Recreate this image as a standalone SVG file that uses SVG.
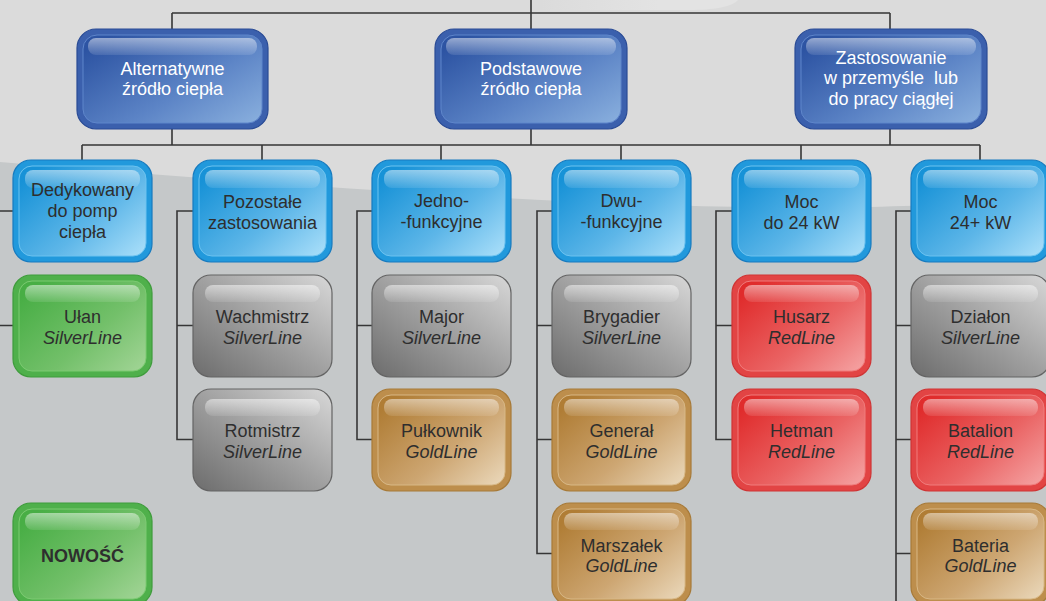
<svg xmlns="http://www.w3.org/2000/svg" width="1046" height="601" viewBox="0 0 1046 601">
<defs>
<linearGradient id="gTopLight" x1="0" y1="0" x2="1" y2="0">
<stop offset="0" stop-color="#e3e3e3" stop-opacity="0"/>
<stop offset="0.6" stop-color="#e3e3e3" stop-opacity="1"/>
<stop offset="1" stop-color="#e3e3e3" stop-opacity="1"/>
</linearGradient>
<linearGradient id="gL1" x1="0" y1="0.2" x2="1" y2="1">
<stop offset="0" stop-color="#2d54a3"/>
<stop offset="0.55" stop-color="#5c84c6"/>
<stop offset="1" stop-color="#8ab0de"/>
</linearGradient>
<linearGradient id="gL2" x1="0" y1="0.2" x2="1" y2="1">
<stop offset="0" stop-color="#1792d7"/>
<stop offset="0.55" stop-color="#5db6e8"/>
<stop offset="1" stop-color="#ace0fa"/>
</linearGradient>
<linearGradient id="gGreen" x1="0" y1="0.2" x2="1" y2="1">
<stop offset="0" stop-color="#48ae45"/>
<stop offset="0.55" stop-color="#73c06a"/>
<stop offset="1" stop-color="#a3d597"/>
</linearGradient>
<linearGradient id="gGrey" x1="0" y1="1" x2="1" y2="0">
<stop offset="0" stop-color="#6c6c6c"/>
<stop offset="0.5" stop-color="#a0a0a0"/>
<stop offset="1" stop-color="#d8d8d8"/>
</linearGradient>
<linearGradient id="gGold" x1="0" y1="0.2" x2="1" y2="1">
<stop offset="0" stop-color="#b07d35"/>
<stop offset="0.55" stop-color="#cda672"/>
<stop offset="1" stop-color="#ebd9bc"/>
</linearGradient>
<linearGradient id="gRed" x1="0" y1="0.2" x2="1" y2="1">
<stop offset="0" stop-color="#e02c2c"/>
<stop offset="0.55" stop-color="#ea6464"/>
<stop offset="1" stop-color="#f5a5a5"/>
</linearGradient>
<linearGradient id="gGloss" x1="0" y1="0" x2="0" y2="1">
<stop offset="0" stop-color="#ffffff" stop-opacity="0.5"/>
<stop offset="1" stop-color="#ffffff" stop-opacity="0.1"/>
</linearGradient>
</defs>
<style>
.conn path{fill:none;stroke:#363636;stroke-width:1.6}
.rim{stroke-width:1.2}
.body{stroke-width:1}
.gloss{fill:url(#gGloss)}
.l1 .rim{fill:#3b60ad;stroke:#2a4b95}
.l1 .body{fill:url(#gL1);stroke:#5f86cb}
.l2 .rim{fill:#2199dc;stroke:#187bbf}
.l2 .body{fill:url(#gL2);stroke:#6cc3f0}
.green .rim{fill:#4fb04b;stroke:#3f9c3c}
.green .body{fill:url(#gGreen);stroke:#7ccb72}
.grey .rim{fill:url(#gGrey);stroke:#646464}
.gold .rim{fill:#bd8e4c;stroke:#a77a38}
.gold .body{fill:url(#gGold);stroke:#d8b886}
.red .rim{fill:#e24444;stroke:#cf3434}
.red .body{fill:url(#gRed);stroke:#f07c7c}
text{font-family:"Liberation Sans",Arial,sans-serif;font-size:18px;text-anchor:middle;fill:#2e2e2e}
.l1 text{fill:#ffffff}
.it{font-style:italic}
.bold{font-weight:bold}
</style>
<rect x="0" y="0" width="1046" height="601" fill="#dbdbdb"/>
<path d="M540,0 H738 C732,7 712,10 690,10 H540 Z" fill="url(#gTopLight)"/>
<path d="M0,162 C260,183 620,212 870,207 C950,205 1010,202 1046,199 L1046,601 L0,601 Z" fill="#c5c8c9"/>

<g class="conn">
<path d="M531,0 V29 M172,13 H890 M172,13 V29 M890,13 V29"/>
<path d="M172,129 V145 M531,129 V145 M890,129 V145 M82,145 H980 M82,145 V160 M262,145 V160 M441,145 V160 M621,145 V160 M801,145 V160 M980,145 V160"/>
<path d="M0,211 H13 M0,325.5 H13"/>
<path d="M193,211 H177 V439.5 H193 M177,325.5 H193"/>
<path d="M372,211 H357 V439.5 H372 M357,325.5 H372"/>
<path d="M552,211 H537 V553.5 H552 M537,325.5 H552 M537,439.5 H552"/>
<path d="M732,211 H716 V439.5 H732 M716,325.5 H732"/>
<path d="M911,211 H896 V601 M896,325.5 H911 M896,439.5 H911 M896,553.5 H911"/>
</g>

<g id="n-alternatywne" class="l1">
<rect class="rim" x="77" y="29" width="191" height="100" rx="19"/>
<rect class="body" x="83" y="35" width="179" height="88" rx="14"/>
<rect class="gloss" x="88" y="38" width="169" height="17" rx="8"/>
<text x="172.5" y="74.5"><tspan x="172.5">Alternatywne</tspan><tspan x="172.5" dy="20.5">źródło ciepła</tspan></text>
</g>
<g id="n-podstawowe" class="l1">
<rect class="rim" x="435" y="29" width="192" height="100" rx="19"/>
<rect class="body" x="441" y="35" width="180" height="88" rx="14"/>
<rect class="gloss" x="446" y="38" width="170" height="17" rx="8"/>
<text x="531" y="74.5"><tspan x="531">Podstawowe</tspan><tspan x="531" dy="20.5">źródło ciepła</tspan></text>
</g>
<g id="n-zastosowanie" class="l1">
<rect class="rim" x="795" y="29" width="192" height="100" rx="19"/>
<rect class="body" x="801" y="35" width="180" height="88" rx="14"/>
<rect class="gloss" x="806" y="38" width="170" height="17" rx="8"/>
<text x="891" y="63.5" xml:space="preserve"><tspan x="891">Zastosowanie</tspan><tspan x="891" dy="20.5">w przemyśle  lub</tspan><tspan x="891" dy="20.5">do pracy ciągłej</tspan></text>
</g>

<g id="n-dedykowany" class="l2">
<rect class="rim" x="13" y="160" width="139" height="102" rx="18"/>
<rect class="body" x="19" y="166" width="127" height="90" rx="13"/>
<rect class="gloss" x="25" y="170" width="115" height="18" rx="8"/>
<text x="82.5" y="196"><tspan x="82.5">Dedykowany</tspan><tspan x="82.5" dy="21">do pomp</tspan><tspan x="82.5" dy="21">ciepła</tspan></text>
</g>
<g id="n-pozostale" class="l2">
<rect class="rim" x="193" y="160" width="139" height="102" rx="18"/>
<rect class="body" x="199" y="166" width="127" height="90" rx="13"/>
<rect class="gloss" x="205" y="170" width="115" height="18" rx="8"/>
<text x="262.5" y="207.5"><tspan x="262.5">Pozostałe</tspan><tspan x="262.5" dy="21">zastosowania</tspan></text>
</g>
<g id="n-jedno" class="l2">
<rect class="rim" x="372" y="160" width="139" height="102" rx="18"/>
<rect class="body" x="378" y="166" width="127" height="90" rx="13"/>
<rect class="gloss" x="384" y="170" width="115" height="18" rx="8"/>
<text x="441.5" y="206.5"><tspan x="441.5">Jedno-</tspan><tspan x="441.5" dy="21">-funkcyjne</tspan></text>
</g>
<g id="n-dwu" class="l2">
<rect class="rim" x="552" y="160" width="139" height="102" rx="18"/>
<rect class="body" x="558" y="166" width="127" height="90" rx="13"/>
<rect class="gloss" x="564" y="170" width="115" height="18" rx="8"/>
<text x="621.5" y="206.5"><tspan x="621.5">Dwu-</tspan><tspan x="621.5" dy="21">-funkcyjne</tspan></text>
</g>
<g id="n-moc24" class="l2">
<rect class="rim" x="732" y="160" width="139" height="102" rx="18"/>
<rect class="body" x="738" y="166" width="127" height="90" rx="13"/>
<rect class="gloss" x="744" y="170" width="115" height="18" rx="8"/>
<text x="801.5" y="207.5"><tspan x="801.5">Moc</tspan><tspan x="801.5" dy="21">do 24 kW</tspan></text>
</g>
<g id="n-moc24plus" class="l2">
<rect class="rim" x="911" y="160" width="139" height="102" rx="18"/>
<rect class="body" x="917" y="166" width="127" height="90" rx="13"/>
<rect class="gloss" x="923" y="170" width="115" height="18" rx="8"/>
<text x="980.5" y="207.5"><tspan x="980.5">Moc</tspan><tspan x="980.5" dy="21">24+ kW</tspan></text>
</g>

<g id="n-ulan" class="green">
<rect class="rim" x="13" y="275" width="139" height="102" rx="18"/>
<rect class="body" x="19" y="281" width="127" height="90" rx="13"/>
<rect class="gloss" x="25" y="285" width="115" height="17" rx="8"/>
<text x="82.5" y="323"><tspan x="82.5">Ułan</tspan><tspan x="82.5" dy="20.5" class="it">SilverLine</tspan></text>
</g>
<g id="n-nowosc" class="green">
<rect class="rim" x="13" y="503" width="139" height="102" rx="18"/>
<rect class="body" x="19" y="509" width="127" height="90" rx="13"/>
<rect class="gloss" x="25" y="513" width="115" height="17" rx="8"/>
<text x="82.5" y="562" class="bold">NOWOŚĆ</text>
</g>

<g id="n-wachmistrz" class="grey">
<rect class="rim" x="193" y="275" width="139" height="102" rx="18"/>
<rect class="gloss" x="205" y="285" width="115" height="17" rx="8"/>
<text x="262.5" y="323"><tspan x="262.5">Wachmistrz</tspan><tspan x="262.5" dy="20.5" class="it">SilverLine</tspan></text>
</g>
<g id="n-rotmistrz" class="grey">
<rect class="rim" x="193" y="389" width="139" height="102" rx="18"/>
<rect class="gloss" x="205" y="399" width="115" height="17" rx="8"/>
<text x="262.5" y="437"><tspan x="262.5">Rotmistrz</tspan><tspan x="262.5" dy="20.5" class="it">SilverLine</tspan></text>
</g>

<g id="n-major" class="grey">
<rect class="rim" x="372" y="275" width="139" height="102" rx="18"/>
<rect class="gloss" x="384" y="285" width="115" height="17" rx="8"/>
<text x="441.5" y="323"><tspan x="441.5">Major</tspan><tspan x="441.5" dy="20.5" class="it">SilverLine</tspan></text>
</g>
<g id="n-pulkownik" class="gold">
<rect class="rim" x="372" y="389" width="139" height="102" rx="18"/>
<rect class="body" x="378" y="395" width="127" height="90" rx="13"/>
<rect class="gloss" x="384" y="399" width="115" height="17" rx="8"/>
<text x="441.5" y="437"><tspan x="441.5">Pułkownik</tspan><tspan x="441.5" dy="20.5" class="it">GoldLine</tspan></text>
</g>

<g id="n-brygadier" class="grey">
<rect class="rim" x="552" y="275" width="139" height="102" rx="18"/>
<rect class="gloss" x="564" y="285" width="115" height="17" rx="8"/>
<text x="621.5" y="323"><tspan x="621.5">Brygadier</tspan><tspan x="621.5" dy="20.5" class="it">SilverLine</tspan></text>
</g>
<g id="n-general" class="gold">
<rect class="rim" x="552" y="389" width="139" height="102" rx="18"/>
<rect class="body" x="558" y="395" width="127" height="90" rx="13"/>
<rect class="gloss" x="564" y="399" width="115" height="17" rx="8"/>
<text x="621.5" y="437"><tspan x="621.5">Generał</tspan><tspan x="621.5" dy="20.5" class="it">GoldLine</tspan></text>
</g>
<g id="n-marszalek" class="gold">
<rect class="rim" x="552" y="503" width="139" height="102" rx="18"/>
<rect class="body" x="558" y="509" width="127" height="90" rx="13"/>
<rect class="gloss" x="564" y="513" width="115" height="17" rx="8"/>
<text x="621.5" y="551.5"><tspan x="621.5">Marszałek</tspan><tspan x="621.5" dy="20.5" class="it">GoldLine</tspan></text>
</g>

<g id="n-husarz" class="red">
<rect class="rim" x="732" y="275" width="139" height="102" rx="18"/>
<rect class="body" x="738" y="281" width="127" height="90" rx="13"/>
<rect class="gloss" x="744" y="285" width="115" height="17" rx="8"/>
<text x="801.5" y="323"><tspan x="801.5">Husarz</tspan><tspan x="801.5" dy="20.5" class="it">RedLine</tspan></text>
</g>
<g id="n-hetman" class="red">
<rect class="rim" x="732" y="389" width="139" height="102" rx="18"/>
<rect class="body" x="738" y="395" width="127" height="90" rx="13"/>
<rect class="gloss" x="744" y="399" width="115" height="17" rx="8"/>
<text x="801.5" y="437"><tspan x="801.5">Hetman</tspan><tspan x="801.5" dy="20.5" class="it">RedLine</tspan></text>
</g>

<g id="n-dzialon" class="grey">
<rect class="rim" x="911" y="275" width="139" height="102" rx="18"/>
<rect class="gloss" x="923" y="285" width="115" height="17" rx="8"/>
<text x="980.5" y="323"><tspan x="980.5">Działon</tspan><tspan x="980.5" dy="20.5" class="it">SilverLine</tspan></text>
</g>
<g id="n-batalion" class="red">
<rect class="rim" x="911" y="389" width="139" height="102" rx="18"/>
<rect class="body" x="917" y="395" width="127" height="90" rx="13"/>
<rect class="gloss" x="923" y="399" width="115" height="17" rx="8"/>
<text x="980.5" y="437"><tspan x="980.5">Batalion</tspan><tspan x="980.5" dy="20.5" class="it">RedLine</tspan></text>
</g>
<g id="n-bateria" class="gold">
<rect class="rim" x="911" y="503" width="139" height="102" rx="18"/>
<rect class="body" x="917" y="509" width="127" height="90" rx="13"/>
<rect class="gloss" x="923" y="513" width="115" height="17" rx="8"/>
<text x="980.5" y="551.5"><tspan x="980.5">Bateria</tspan><tspan x="980.5" dy="20.5" class="it">GoldLine</tspan></text>
</g>
</svg>
